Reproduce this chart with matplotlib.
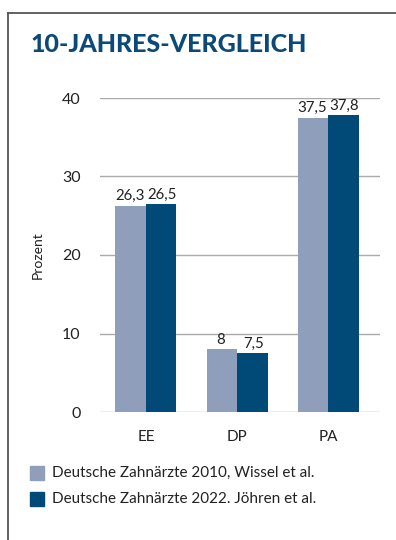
import matplotlib
matplotlib.use("Agg")
import matplotlib.pyplot as plt
from matplotlib.patches import Rectangle
from matplotlib.lines import Line2D
import numpy as np

categories = ["EE", "DP", "PA"]
values_2010 = [26.3, 8, 37.5]
values_2022 = [26.5, 7.5, 37.8]
labels_2010 = ["26,3", "8", "37,5"]
labels_2022 = ["26,5", "7,5", "37,8"]
series_names = ["Deutsche Zahnärzte 2010, Wissel et al.",
                "Deutsche Zahnärzte 2022. Jöhren et al."]
yticks = [0, 10, 20, 30, 40]

c_light = "#8E9EBB"
c_dark = "#014A77"
title_color = "#0B4A78"

plt.rcParams['font.family'] = ['Lato', 'DejaVu Sans']

fig = plt.figure(figsize=(3.96, 5.40), dpi=100)
ax = fig.add_axes([100/396, 1-412/540, 280/396, (412-98)/540])

x = np.arange(len(categories))
w = 0.335
ax.bar(x - w/2, values_2010, width=w, color=c_light, zorder=3)
ax.bar(x + w/2, values_2022, width=w, color=c_dark, zorder=3)
for xi, v, l in zip(x, values_2010, labels_2010):
    ax.text(xi - w/2 - 0.01, v + 0.3, l, ha="center", va="bottom", fontsize=10.8, color="#222222")
for xi, v, l in zip(x, values_2022, labels_2022):
    ax.text(xi + w/2 + 0.01, v + 0.3, l, ha="center", va="bottom", fontsize=10.8, color="#222222")

ax.set_xlim(-0.505, 2.57)
ax.set_ylim(0, 40)
ax.set_yticks(yticks)
ax.set_yticklabels([str(t) for t in yticks], fontsize=11.5, color="#222222")
ax.set_xticks(x)
ax.set_xticklabels(categories, fontsize=11, color="#222222")
ax.tick_params(length=0)
ax.tick_params(axis="y", pad=14)
ax.tick_params(axis="x", pad=13)
for s in ax.spines.values():
    s.set_visible(False)
ax.yaxis.grid(True, color="#AAAAAA", linewidth=1.0, zorder=0)
ax.set_axisbelow(True)
ax.set_ylabel("Prozent", fontsize=10, color="#222222")
ax.yaxis.set_label_coords(-0.20, 0.5)

# frame lines
fig.add_artist(Line2D([8/396, 8/396], [0, 1-12.5/540], color="#555555", lw=1.3, transform=fig.transFigure))
fig.add_artist(Line2D([8/396, 1], [1-12.5/540, 1-12.5/540], color="#555555", lw=1.3, transform=fig.transFigure))

fig.text(30/396, 1-52/540, "10-JAHRES-VERGLEICH", fontsize=18, fontweight="black",
         color=title_color, ha="left", va="baseline")

# legend
for i, (name, col) in enumerate(zip(series_names, [c_light, c_dark])):
    ytop = 466 + i*26
    fig.add_artist(Rectangle((30/396, 1-(ytop+14)/540), 14/396, 14/540,
                             color=col, transform=fig.transFigure))
    fig.text(52/396, 1-(ytop+7)/540, name, fontsize=11, color="#222222",
             ha="left", va="center")

fig.savefig("out.png", dpi=100)
